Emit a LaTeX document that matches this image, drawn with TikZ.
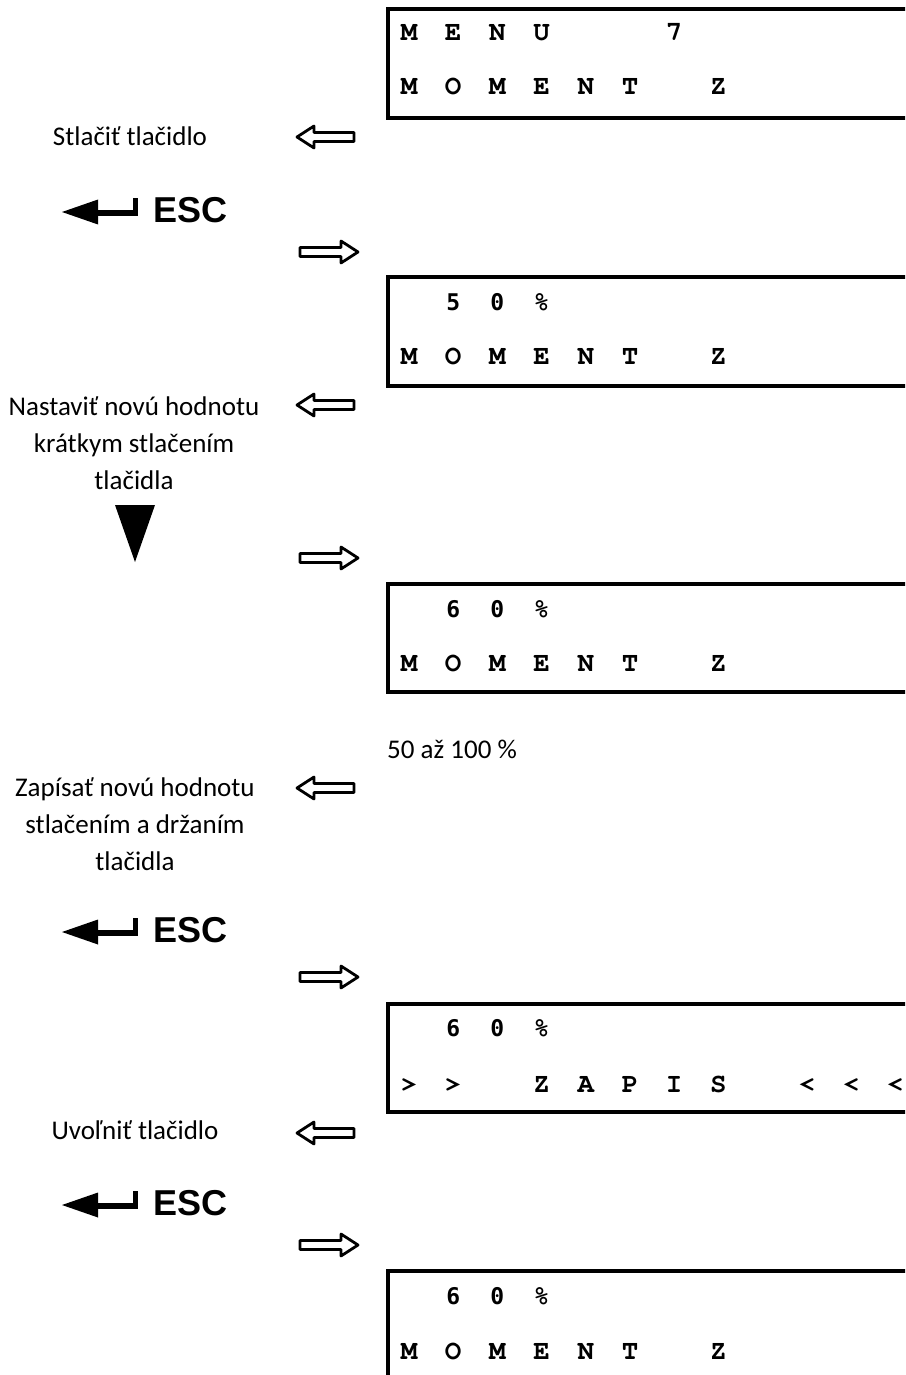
\documentclass[tikz,border=0pt]{standalone}
\usepackage[T1,TU]{fontenc}
\usepackage{fontspec}
\setmainfont{Carlito}
\newcommand\lcdfont{\fontencoding{T1}\fontfamily{pcr}\fontseries{b}\fontshape{n}\selectfont}
\newfontfamily\digfont{DejaVu Sans Mono}
\newfontfamily\escfont{Liberation Sans}
\newcommand\lcdrow[3]{\foreach \c/\s in {#3} {\node[lcd] (#1-\c) at ({409+44.2*\c},#2) {\s};}}
\newcommand\digrow[3]{\foreach \c/\s in {#3} {\node[dig] (#1-\c) at ({409+44.2*\c},#2) {\s};}}
\newcommand\lcdbox[2]{\draw[boxline] (912,#2) -- (388,#2) -- (388,#2+108.5) -- (912,#2+108.5);}
\begin{document}
\begin{tikzpicture}[x=1pt,y=-1pt,
  lbl/.style={font=\fontsize{27}{27}\selectfont, inner sep=0pt, anchor=base},
  lcd/.style={font=\fontsize{27.5}{27.5}\lcdfont, inner sep=0pt, anchor=base},
  dig/.style={font=\digfont\bfseries\fontsize{23}{23}\selectfont, inner sep=0pt, anchor=base},
  esctext/.style={font=\escfont\bfseries\fontsize{36}{36}\selectfont, inner sep=0pt, anchor=west},
  boxline/.style={line width=4pt},
  hollow/.style={line width=2.8pt, line join=round},
  larr/.pic={\draw[hollow] (0,0) -- (17,-11) -- (17,-4.5) -- (57,-4.5) -- (57,4.5) -- (17,4.5) -- (17,11) -- cycle;},
  rarr/.pic={\draw[hollow] (0,0) -- (-17,-11) -- (-17,-4.5) -- (-58,-4.5) -- (-58,4.5) -- (-17,4.5) -- (-17,11) -- cycle;},
  escsym/.pic={\fill (0,0) -- (36,-12.5) -- (36,12.5) -- cycle;
               \fill (35,-2.5) rectangle (75.5,3.5);
               \fill (71,-14) rectangle (75.5,3.5);}
]
\useasboundingbox (0,0) rectangle (905,1375);
\clip (0,0) rectangle (905,1375);

% ---- box 1
\lcdbox{b1}{9.5}
\lcdrow{b1a}{41}{0/M,1/E,2/N,3/U,6/7}
\lcdrow{b1b}{95}{0/M,1/O,2/M,3/E,4/N,5/T,7/Z}

\node[lbl] (t1) at (130,146) {Stlačiť tlačidlo};
\pic at (297,137) {larr};
\pic at (62,212) {escsym};
\node[esctext] (esc1) at (153,210) {ESC};
\pic at (358,252) {rarr};

% ---- box 2
\lcdbox{b2}{277}
\digrow{b2a}{310}{1/5,2/0}
\lcdrow{b2p}{310}{3/\%}
\lcdrow{b2b}{364}{0/M,1/O,2/M,3/E,4/N,5/T,7/Z}

\node[lbl] (t2a) at (134,415) {Nastaviť novú hodnotu};
\node[lbl] (t2b) at (134,452) {krátkym stlačením};
\node[lbl] (t2c) at (134,489) {tlačidla};
\pic at (297,405) {larr};
\fill (115,505) -- (155,505) -- (135,562) -- cycle;
\pic at (358,558) {rarr};

% ---- box 3
\lcdbox{b3}{583.5}
\digrow{b3a}{617}{1/6,2/0}
\lcdrow{b3p}{617}{3/\%}
\lcdrow{b3b}{671}{0/M,1/O,2/M,3/E,4/N,5/T,7/Z}

\node[lbl, anchor=base west] (range) at (387,758) {50 až 100 \%};
\node[lbl] (t3a) at (135,796) {Zapísať novú hodnotu};
\node[lbl] (t3b) at (135,833) {stlačením a držaním};
\node[lbl] (t3c) at (135,870) {tlačidla};
\pic at (297,788) {larr};
\pic at (62,932) {escsym};
\node[esctext] (esc2) at (153,930) {ESC};
\pic at (358,977) {rarr};

% ---- box 4
\lcdbox{b4}{1003.5}
\digrow{b4a}{1036}{1/6,2/0}
\lcdrow{b4p}{1036}{3/\%}
\lcdrow{b4b}{1092}{0/>,1/>,3/Z,4/A,5/P,6/I,7/S,9/<,10/<,11/<}

\node[lbl] (t4) at (135,1139) {Uvoľniť tlačidlo};
\pic at (297,1133) {larr};
\pic at (62,1205) {escsym};
\node[esctext] (esc3) at (153,1203) {ESC};
\pic at (358,1245) {rarr};

% ---- box 5
\lcdbox{b5}{1270.5}
\digrow{b5a}{1304}{1/6,2/0}
\lcdrow{b5p}{1304}{3/\%}
\lcdrow{b5b}{1359}{0/M,1/O,2/M,3/E,4/N,5/T,7/Z}
\end{tikzpicture}
\end{document}
